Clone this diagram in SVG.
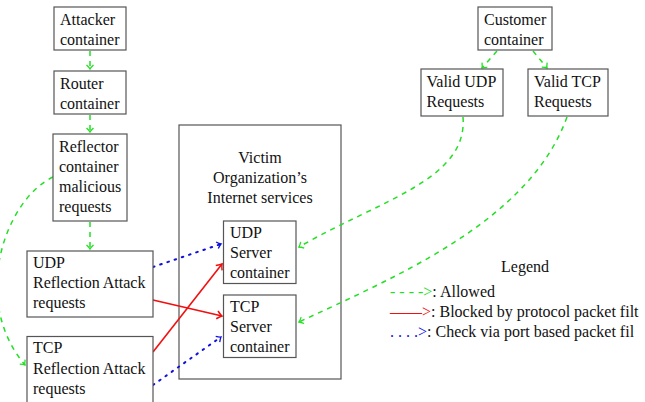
<svg xmlns="http://www.w3.org/2000/svg" width="645" height="402" viewBox="0 0 645 402">
<style>
.box{fill:#fff;stroke:#555;stroke-width:1.2}
.t{font-family:"Liberation Serif","Times New Roman",serif;font-size:16px;fill:#111}
.c{text-anchor:middle}
.g{fill:none;stroke:#22e022;stroke-width:1.5;stroke-dasharray:5 5}
.r{fill:none;stroke:#f01010;stroke-width:1.6}
.b{fill:none;stroke:#1010e0;stroke-width:2;stroke-dasharray:1.6 6;stroke-linecap:round}
</style>
<defs>
<marker id="ag" markerUnits="userSpaceOnUse" markerWidth="10" markerHeight="10" orient="auto" overflow="visible"><path d="M-4,-3.5 Q-1.5,-0.8 0,0 Q-1.5,0.8 -4,3.5" fill="none" stroke="#22e022" stroke-width="1.3"/></marker>
<marker id="ar" markerUnits="userSpaceOnUse" markerWidth="10" markerHeight="10" orient="auto" overflow="visible"><path d="M-5,-4 Q-1.8,-0.9 0,0 Q-1.8,0.9 -5,4" fill="none" stroke="#f01010" stroke-width="1.5"/></marker>
<marker id="ab" markerUnits="userSpaceOnUse" markerWidth="10" markerHeight="10" orient="auto" overflow="visible"><path d="M-4,-3.5 Q-1.5,-0.8 0,0 Q-1.5,0.8 -4,3.5" fill="none" stroke="#1010e0" stroke-width="1.3"/></marker>
</defs>
<rect width="645" height="402" fill="#fff"/>

<g id="victim">
<rect class="box" x="179" y="125" width="162" height="254"/>
<text class="t c" x="260" y="163">Victim</text>
<text class="t c" x="260" y="183">Organization’s</text>
<text class="t c" x="260" y="203">Internet services</text>
</g>

<g id="connectors">
<path class="g" d="M90,51 L90,69" marker-end="url(#ag)"/>
<path class="g" d="M90,115 L90,132" marker-end="url(#ag)"/>
<path class="g" d="M90,222 L90,249" marker-end="url(#ag)"/>
<path class="g" d="M53,177 C5,200 -30,300 25,365" marker-end="url(#ag)"/>
<path class="g" d="M497,51 L482,68" marker-end="url(#ag)"/>
<path class="g" d="M533,51 L547,68" marker-end="url(#ag)"/>
<path class="g" d="M463,117 C468,180 380,200 299,247" marker-end="url(#ag)"/>
<path class="g" d="M567,117 C530,220 400,275 299,322" marker-end="url(#ag)"/>
<path class="r" d="M153,300 L222,316" marker-end="url(#ar)"/>
<path class="r" d="M153,352 L222,264" marker-end="url(#ar)"/>
<path class="b" d="M153,267 L221,244" marker-end="url(#ab)"/>
<path class="b" d="M153,385 L221,337" marker-end="url(#ab)"/>
</g>

<g id="attacker">
<rect class="box" x="54" y="7" width="72" height="43"/>
<text class="t" x="60" y="24.5">Attacker</text>
<text class="t" x="60" y="44.5">container</text>
</g>
<g id="router">
<rect class="box" x="54" y="71" width="72" height="43"/>
<text class="t" x="60" y="88.5">Router</text>
<text class="t" x="60" y="108.5">container</text>
</g>
<g id="reflector">
<rect class="box" x="53" y="134" width="74" height="87"/>
<text class="t" x="59" y="151.5">Reflector</text>
<text class="t" x="59" y="171.5">container</text>
<text class="t" x="59" y="191.5">malicious</text>
<text class="t" x="59" y="211.5">requests</text>
</g>
<g id="udp-reflection">
<rect class="box" x="27" y="251" width="126" height="66"/>
<text class="t" x="33" y="267.5">UDP</text>
<text class="t" x="33" y="288">Reflection Attack</text>
<text class="t" x="33" y="308">requests</text>
</g>
<g id="tcp-reflection">
<rect class="box" x="27" y="336.5" width="126" height="70"/>
<text class="t" x="33" y="353">TCP</text>
<text class="t" x="33" y="373.5">Reflection Attack</text>
<text class="t" x="33" y="394">requests</text>
</g>
<g id="udp-server">
<rect class="box" x="223.5" y="221" width="72.5" height="62.5"/>
<text class="t" x="230" y="237.5">UDP</text>
<text class="t" x="230" y="257.5">Server</text>
<text class="t" x="230" y="277.5">container</text>
</g>
<g id="tcp-server">
<rect class="box" x="223.5" y="295" width="72.5" height="62.5"/>
<text class="t" x="230" y="311.5">TCP</text>
<text class="t" x="230" y="332">Server</text>
<text class="t" x="230" y="352">container</text>
</g>
<g id="customer">
<rect class="box" x="478" y="7" width="74" height="43"/>
<text class="t" x="484" y="24.5">Customer</text>
<text class="t" x="484" y="44.5">container</text>
</g>
<g id="valid-udp">
<rect class="box" x="421" y="69" width="82" height="47"/>
<text class="t" x="426.5" y="86.5">Valid UDP</text>
<text class="t" x="426.5" y="106.5">Requests</text>
</g>
<g id="valid-tcp">
<rect class="box" x="528" y="69" width="80" height="47"/>
<text class="t" x="534" y="86.5">Valid TCP</text>
<text class="t" x="534" y="106.5">Requests</text>
</g>

<g id="legend">
<text class="t c" x="525" y="272">Legend</text>
<text class="t" x="390" y="297"><tspan fill="#22e022">- - - -&gt;</tspan>: Allowed</text>
<text class="t" x="390" y="317"><tspan fill="#f01010">——&gt;</tspan>: Blocked by protocol packet filt</text>
<text class="t" x="390" y="336.5"><tspan fill="#1010e0">. . . .&gt;</tspan>: Check via port based packet fil</text>
</g>
</svg>
